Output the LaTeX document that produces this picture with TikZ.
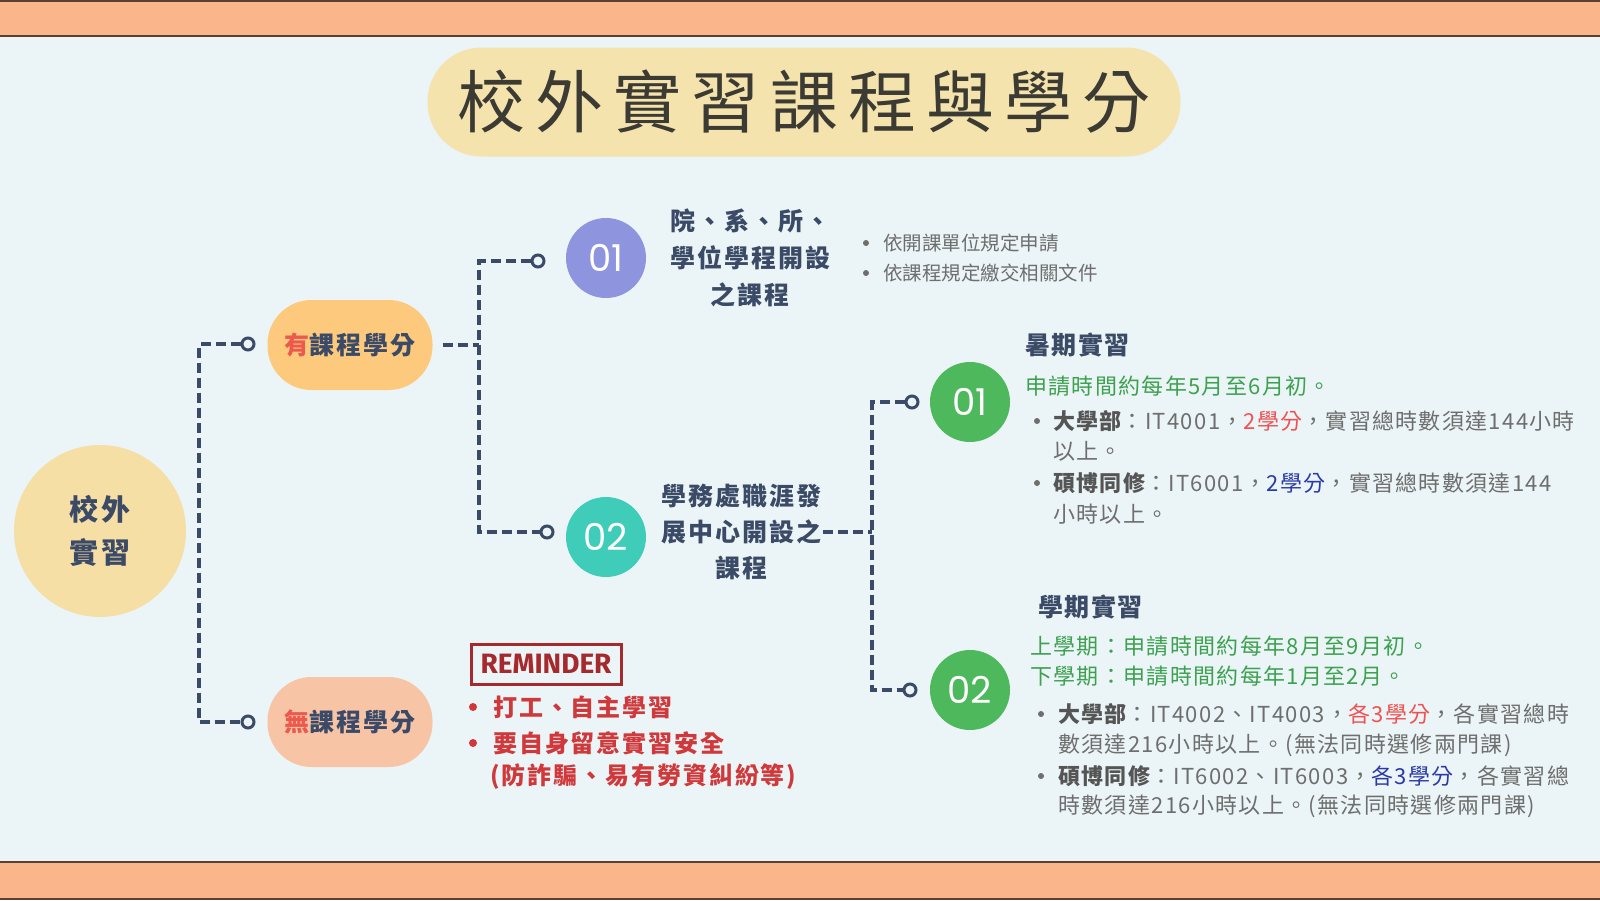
\documentclass[tikz,border=0pt]{standalone}
\usepackage{fontspec}
\setmainfont{Noto Sans CJK TC}
\newfontfamily\numfont{Poppins}
\newfontfamily\remfont{Fira Sans}
\definecolor{bgc}{HTML}{EBF4F6}
\definecolor{band}{HTML}{FBB58B}
\definecolor{bandline}{HTML}{5B3F33}
\definecolor{navy}{HTML}{3B4A66}
\definecolor{titlebg}{HTML}{F5E3AE}
\definecolor{titletxt}{HTML}{3B3A33}
\definecolor{rootc}{HTML}{F5DFA5}
\definecolor{orangep}{HTML}{FDC97C}
\definecolor{peachp}{HTML}{F8C4A6}
\definecolor{purplec}{HTML}{8E95DE}
\definecolor{tealc}{HTML}{3FCDB9}
\definecolor{greenc}{HTML}{4DB85C}
\definecolor{redk}{HTML}{EC5A4E}
\definecolor{graytxt}{HTML}{6E6E6E}
\definecolor{graybold}{HTML}{555555}
\definecolor{greentxt}{HTML}{3DA150}
\definecolor{redcr}{HTML}{EE5252}
\definecolor{bluecr}{HTML}{2B3AA8}
\definecolor{remred}{HTML}{D0393B}
\definecolor{stamp}{HTML}{A52A2D}
\newcommand\fsz[2]{\fontsize{#1}{#2}\selectfont}
\newcommand\lsp[1]{\addfontfeature{LetterSpace=#1}}
\tikzset{
  conn/.style={draw=navy, line width=3.5pt, dash pattern=on 10pt off 5pt},
  knob/.style={circle, draw=navy, line width=3pt, fill=bgc, minimum size=12pt, inner sep=0pt},
  numc/.style={circle, minimum size=80pt, inner sep=0pt, text=white, font=\numfont\fsz{37}{37}},
  pillbox/.style={rounded corners=44pt, minimum width=165pt, minimum height=90pt, inner sep=0pt, text=navy, font=\bfseries\fsz{25}{25}\lsp{8}},
  branchtxt/.style={align=center, inner sep=2pt, text=navy, font=\bfseries\fsz{25}{37}\lsp{8}},
  txl/.style={anchor=west, inner sep=0pt},
  graytext/.style={txl, text=graytxt, font=\fsz{22}{22}\lsp{6}},
  greentext/.style={txl, text=greentxt, font=\fsz{22}{22}\lsp{6}},
  smallgray/.style={txl, text=graytxt, font=\fsz{19.5}{19.5}},
  headtext/.style={txl, text=navy, font=\bfseries\fsz{25}{25}\lsp{6}},
  gdot/.style={circle, fill=graytxt, minimum size=6pt, inner sep=0pt},
  rdot/.style={circle, fill=remred, minimum size=8pt, inner sep=0pt},
  remtext/.style={txl, text=remred, font=\bfseries\fsz{24}{24}\lsp{8}},
}
\begin{document}
\begin{tikzpicture}[x=1pt,y=-1pt]
\path[use as bounding box] (0,0) rectangle (1600,900);
\fill[bgc] (0,0) rectangle (1600,900);
\fill[band] (0,0) rectangle (1600,36);
\fill[band] (0,862) rectangle (1600,900);
\draw[bandline, line width=2pt] (0,1) -- (1600,1);
\draw[bandline, line width=2pt] (0,36) -- (1600,36);
\draw[bandline, line width=2pt] (0,862) -- (1600,862);
\draw[bandline, line width=2pt] (0,899) -- (1600,899);

% title
\node[fill=titlebg, rounded corners=54pt, minimum width=753pt, minimum height=109pt, inner sep=0pt,
      text=titletxt, font=\fsz{68}{68}\lsp{15}] (title) at (804,102) {校外實習課程與學分};

% root and first level
\node[circle, fill=rootc, minimum size=172pt, inner sep=0pt, align=center, text=navy,
      font=\bfseries\fsz{29}{43}\lsp{10}] (root) at (100,531) {校外\\實習};
\node[pillbox, fill=orangep] (p1) at (350,345) {\textcolor{redk}{有}課程學分};
\node[pillbox, fill=peachp] (p2) at (350,722) {\textcolor{redk}{無}課程學分};
\node[knob] (k1) at (248,344) {};
\node[knob] (k2) at (248,722) {};
\coordinate (j0) at (199,533);
\draw[conn] (k1.west) -| (j0) |- (k2.west);

% second level
\coordinate (j1) at (479,345);
\draw[conn] ([xshift=10pt]p1.east) -- (j1);
\node[knob] (k3) at (538,261) {};
\node[knob] (k4) at (547,532) {};
\draw[conn] (k3.west) -| (j1) |- (k4.west);
\node[numc, fill=purplec] (n1) at (606,258) {01};
\node[numc, fill=tealc] (n2) at (606,537) {02};
\node[branchtxt] (t1) at (750,258) {院、系、所、\\學位學程開設\\之課程};
\node[branchtxt, font=\bfseries\fsz{25}{36}\lsp{8}] (t2) at (741,532) {學務處職涯發\\展中心開設之\\課程};

% bullets for 01
\node[gdot] (d1) at (866,243) {};
\node[smallgray] (b1) at (883,243) {依開課單位規定申請};
\node[gdot] (d2) at (866,273) {};
\node[smallgray] (b2) at (883,273) {依課程規定繳交相關文件};

% third level
\coordinate (j2) at (872,532);
\draw[conn] (t2.east) -- (j2);
\node[knob] (k5) at (912,402) {};
\node[knob] (k6) at (910,690) {};
\draw[conn] (k5.west) -| (j2) |- (k6.west);
\node[numc, fill=greenc] (g1) at (970,402) {01};
\node[numc, fill=greenc] (g2) at (970,690) {02};

% summer
\node[headtext] (h1) at (1025,345) {暑期實習};
\node[greentext] (s0) at (1025,386) {申請時間約每年5月至6月初。};
\node[gdot] (sd1) at (1037,421) {};
\node[graytext] (s1) at (1053,421) {{\bfseries\color{graybold}大學部}：IT4001，\textcolor{redcr}{2學分}，實習總時數須達144小時};
\node[graytext] (s1b) at (1053,451) {以上。};
\node[gdot] (sd2) at (1037,483) {};
\node[graytext] (s2) at (1053,483) {{\bfseries\color{graybold}碩博同修}：IT6001，\textcolor{bluecr}{2學分}，實習總時數須達144};
\node[graytext] (s2b) at (1053,514) {小時以上。};

% semester
\node[headtext] (h2) at (1038,607) {學期實習};
\node[greentext] (m0) at (1030,646) {上學期：申請時間約每年8月至9月初。};
\node[greentext] (m1) at (1030,676) {下學期：申請時間約每年1月至2月。};
\node[gdot] (md1) at (1041,714) {};
\node[graytext] (m2) at (1058,714) {{\bfseries\color{graybold}大學部}：IT4002、IT4003，\textcolor{redcr}{各3學分}，各實習總時};
\node[graytext] (m2b) at (1058,745) {數須達216小時以上。(無法同時選修兩門課)};
\node[gdot] (md2) at (1041,776) {};
\node[graytext] (m3) at (1058,776) {{\bfseries\color{graybold}碩博同修}：IT6002、IT6003，\textcolor{bluecr}{各3學分}，各實習總};
\node[graytext] (m3b) at (1058,806) {時數須達216小時以上。(無法同時選修兩門課)};

% reminder
\node[draw=stamp, line width=3pt, text=stamp, minimum width=150pt, minimum height=40pt, inner sep=0pt,
      font=\remfont\bfseries\fsz{28}{28}] (rem) at (546,664) {REMINDER};
\node[rdot] (rd1) at (473,707) {};
\node[remtext] (r1) at (493,707) {打工、自主學習};
\node[rdot] (rd2) at (473,743) {};
\node[remtext] (r2) at (493,743) {要自身留意實習安全};
\node[remtext] (r3) at (490,777) {(防詐騙、易有勞資糾紛等)};
\end{tikzpicture}
\end{document}
